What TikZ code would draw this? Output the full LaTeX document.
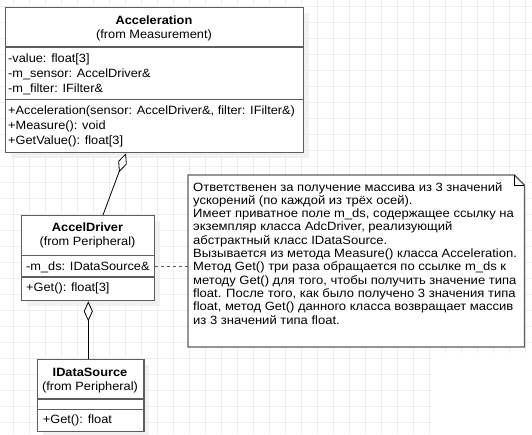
\documentclass[tikz,border=0pt]{standalone}
\usepackage{fontspec}
\setmainfont{Liberation Sans}
\newfontfamily\clsfont[FakeStretch=1.065]{Liberation Sans}
\newfontfamily\notefont[FakeStretch=1.085]{Liberation Sans}
\usetikzlibrary{arrows.meta,calc}
\definecolor{gridc}{HTML}{EDEDED}
\definecolor{bord}{HTML}{5E5E5E}
\definecolor{shad}{HTML}{F1F1F1}
\begin{document}
\begin{tikzpicture}[x=1pt,y=-1pt,
  cls/.style={draw=bord, line width=1.3pt, fill=white, anchor=north west, inner sep=0pt},
  txt/.style={anchor=base west, inner sep=0pt, font=\clsfont\fontsize{12}{14}\selectfont},
  ttl/.style={anchor=base, inner sep=0pt, font=\clsfont\fontsize{12}{14}\selectfont\bfseries},
  sub/.style={anchor=base, inner sep=0pt, font=\clsfont\fontsize{12}{14}\selectfont},
  notetxt/.style={anchor=base west, inner sep=0pt, font=\notefont\fontsize{12}{14}\selectfont},
  sep/.style={draw=bord, line width=1.3pt},
  gline/.style={draw=gridc, line width=0.9pt},
  aggr/.style={draw=black, line width=0.8pt, -{Diamond[open, fill=white, length=20pt, width=9pt, line width=0.8pt]}},
]
\useasboundingbox (0,0) rectangle (532,434);
\fill[white] (0,0) rectangle (532,434);
% grid
\begin{scope}
\clip (0,0) -| (532,353) -| (432,434) -| (0,0) -- cycle;
\foreach \x in {13.3,29.3,...,532} \draw[gline] (\x,0) -- (\x,434);
\foreach \y in {6.7,22.7,...,434} \draw[gline] (0,\y) -- (532,\y);
\end{scope}
% shadows
\fill[shad] (11,13) rectangle (309,158);
\fill[shad] (27,221) rectangle (160,306);
\fill[shad] (42.7,365) rectangle (149.3,437);
% Acceleration
\node[cls, minimum width=298pt, minimum height=145pt] (acc) at (5,7) {};
\draw[sep] (5,47) -- (303,47);
\draw[sep] (5,99.3) -- (303,99.3);
\node[ttl] (accT) at (154,24) {Acceleration};
\node[sub] (accF) at (154,38) {(from Measurement)};
\node[txt] (accA1) at (8,62.7) {-value: float[3]};
\node[txt] (accA2) at (8,77.3) {-m\_sensor: AccelDriver\&};
\node[txt] (accA3) at (8,92) {-m\_filter: IFilter\&};
\node[txt] (accM1) at (8,114) {+Acceleration(sensor: AccelDriver\&, filter: IFilter\&)};
\node[txt] (accM2) at (8,129.3) {+Measure(): void};
\node[txt] (accM3) at (8,144) {+GetValue(): float[3]};
% AccelDriver
\node[cls, minimum width=133pt, minimum height=85pt] (ad) at (21,215) {};
\draw[sep] (21,255.7) -- (154,255.7);
\draw[sep] (21,277) -- (154,277);
\node[ttl] (adT) at (87.5,231.7) {AccelDriver};
\node[sub] (adF) at (87.5,245.7) {(from Peripheral)};
\node[txt] (adA1) at (26,270) {-m\_ds: IDataSource\&};
\node[txt] (adM1) at (26,291.3) {+Get(): float[3]};
% IDataSource
\node[cls, minimum width=106.6pt, minimum height=72pt] (ids) at (36.7,359) {};
\draw[sep] (36.7,399) -- (143.3,399);
\draw[sep] (36.7,409.3) -- (143.3,409.3);
\node[ttl] (idsT) at (90,376) {IDataSource};
\node[sub] (idsF) at (90,390) {(from Peripheral)};
\node[txt] (idsM1) at (42.7,423.3) {+Get(): float};
% note
\node[inner sep=0pt, minimum width=336pt, minimum height=171.5pt, anchor=north west] (note) at (188,175) {};
\draw[bord, line width=1.3pt, fill=white] (note.north west) -- ([xshift=-10pt]note.north east) -- ([yshift=-10pt]note.north east) -- (note.south east) -- (note.south west) -- cycle;
\draw[black, line width=0.7pt] ([xshift=-10pt]note.north east) -- ++(0,10) -- ++(10,0);
\foreach \t [count=\i] in {
  {Ответственен за получение массива из 3 значений},
  {ускорений (по каждой из трёх осей).},
  {Имеет приватное поле m\_ds, содержащее ссылку на},
  {экземпляр класса AdcDriver, реализующий},
  {абстрактный класс IDataSource.},
  {Вызывается из метода Measure() класса Acceleration.},
  {Метод Get() три раза обращается по ссылке m\_ds к},
  {методу Get() для того, чтобы получить значение типа},
  {float. После того, как было получено 3 значения типа},
  {float, метод Get() данного класса возвращает массив},
  {из 3 значений типа float.}}
  \node[notetxt] (n\i) at (193,{191+13.33*(\i-1)}) {\t};
% connectors
\draw[aggr] ([xshift=82pt]ad.north west) -- ([xshift=121pt]acc.south west);
\draw[aggr] ([xshift=51.6pt]ids.north west) -- ([xshift=67.3pt]ad.south west);
\coordinate (dstart) at ([yshift=-8.5pt]ad.east);
\draw[bord, line width=1.3pt, dash pattern=on 3pt off 3pt] (dstart) -- (dstart -| note.west);
\end{tikzpicture}
\end{document}
